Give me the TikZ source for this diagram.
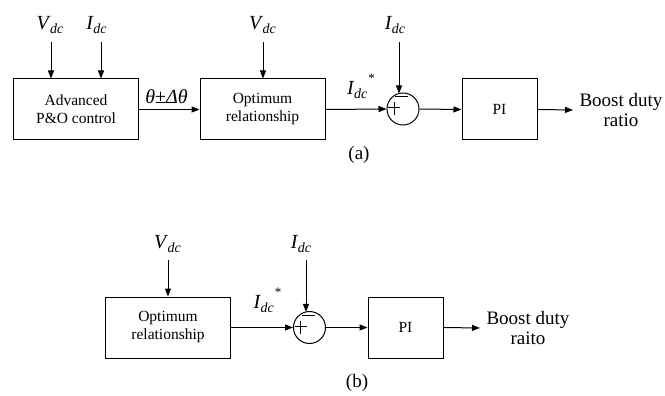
\documentclass[tikz,border=0pt]{standalone}
\usepackage{fontspec}
\setmainfont{Liberation Serif}
\usetikzlibrary{arrows.meta}
\newcommand{\dcsub}[1]{\textit{#1}\kern-0.5pt\raisebox{-4pt}{\fontsize{14}{14}\selectfont\textit{dc}}}
\newcommand{\idcstar}{\dcsub{I}\kern1pt\raisebox{12pt}{\fontsize{13}{13}\selectfont *}}
\begin{document}
\begin{tikzpicture}[x=1pt,y=-1pt,
  line width=1pt,
  arr/.style={-{Triangle[length=8pt,width=6pt]}},
  blk/.style={draw,minimum width=125pt,minimum height=61pt,inner sep=0pt,align=center,
    font=\fontsize{15.5}{18}\selectfont},
  piblk/.style={draw,minimum width=75pt,minimum height=61pt,inner sep=0pt,
    font=\fontsize{15.5}{18}\selectfont},
  sumc/.style={draw,circle,minimum size=32pt,inner sep=0pt},
  mlab/.style={anchor=base,inner sep=0pt,font=\fontsize{20}{20}\selectfont},
  outlab/.style={anchor=west,inner xsep=6pt,inner ysep=0pt,align=center,
    font=\fontsize{19}{20}\selectfont},
  figcap/.style={inner sep=0pt,font=\fontsize{19}{20}\selectfont}
]
\useasboundingbox (0,0) rectangle (665,396);

% ---------------- (a) ----------------
\node[blk] (adv) at (76,109.5) {Advanced\\P\&O control};
\node[blk] (opt1) at (262.5,109.5) {Optimum\\relationship};
\node[sumc] (s1) at (403,109) {};
\node[piblk] (pi1) at (499.5,109.5) {PI};
\node[outlab] (out1) at (573,110) {Boost duty\\ratio};

\node[mlab] (vdc1) at (50,30) {\dcsub{V}};
\node[mlab] (idc1) at (96.5,30) {\dcsub{I}};
\node[mlab] (vdc2) at (262.5,30) {\dcsub{V}};
\node[mlab] (idc2) at (395,30) {\dcsub{I}};
\node[mlab] (th) at (166.5,103) {\textit{θ}±\textit{Δθ}};
\node[mlab] (ist1) at (361,95) {\idcstar};

\coordinate (vdc1s) at (51,42);
\coordinate (idc1s) at (101,42);
\coordinate (vdc2s) at (263,42);
\coordinate (idc2s) at (399,42);

\draw[arr] (vdc1s) -- (vdc1s |- adv.north);
\draw[arr] (idc1s) -- (idc1s |- adv.north);
\draw[arr] (vdc2s) -- (vdc2s |- opt1.north);
\draw[arr] (idc2s) -- (399,93.5);
\draw[arr] (adv.east) -- (opt1.west);
\draw[arr] (opt1.east) -- (s1.west);
\draw[arr] (s1.east) -- (pi1.west);
\draw[arr] (pi1.east) -- (out1.west);

% plus / minus in summing junction
\draw (s1.center) ++(-15,-1) -- ++(12,0);
\draw (s1.center) ++(-9,-7) -- ++(0,13);
\draw (s1.center) ++(-8,-12.5) -- ++(13,0);

\node[figcap] (capa) at (359,155) {(a)};

% ---------------- (b) ----------------
\node[blk] (opt2) at (168,327.5) {Optimum\\relationship};
\node[sumc] (s2) at (309.5,327.5) {};
\node[piblk] (pi2) at (405.5,327.5) {PI};
\node[outlab] (out2) at (480,328) {Boost duty\\raito};

\node[mlab] (vdc3) at (167.5,248) {\dcsub{V}};
\node[mlab] (idc3) at (301,248) {\dcsub{I}};
\node[mlab] (ist2) at (267.5,308) {\idcstar};

\coordinate (vdc3s) at (168,260);
\coordinate (idc3s) at (306,260);

\draw[arr] (vdc3s) -- (vdc3s |- opt2.north);
\draw[arr] (idc3s) -- (306,311.9);
\draw[arr] (opt2.east) -- (s2.west);
\draw[arr] (s2.east) -- (pi2.west);
\draw[arr] (pi2.east) -- (out2.west);

\draw (s2.center) ++(-15,-1) -- ++(12,0);
\draw (s2.center) ++(-9,-7) -- ++(0,13);
\draw (s2.center) ++(-8,-12.5) -- ++(13,0);

\node[figcap] (capb) at (357,383) {(b)};
\end{tikzpicture}
\end{document}
